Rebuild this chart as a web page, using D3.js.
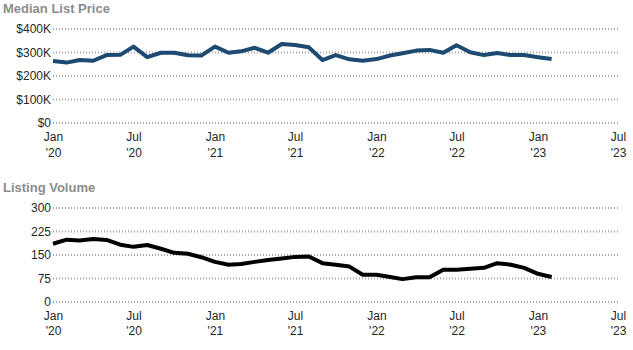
<!DOCTYPE html>
<html>
<head>
<meta charset="utf-8">
<script src="https://cdn.jsdelivr.net/npm/d3@7"></script>
<style>
  body { margin: 0; background: #fff; }
  text { font-family: "Liberation Sans", Arial, sans-serif; }
</style>
</head>
<body>
<svg id="chart" width="633" height="350"></svg>
<script>
// monthly values, Jan 2020 .. Feb 2023
const months = d3.timeMonths(new Date(2020, 0, 1), new Date(2023, 1, 2));

const listPrice = [264, 257, 268, 265, 289, 290, 325, 280, 299, 299, 288, 287,
  325, 299, 305, 320, 299, 336, 332, 322, 268, 289, 271, 265,
  272, 287, 297, 308, 311, 299, 331, 301, 289, 298, 289, 289,
  280, 272].map(d => d * 1000);

const listingVolume = [186, 199, 196, 201, 198, 183, 176, 182, 170, 157, 154, 143,
  128, 119, 121, 128, 134, 139, 144, 145, 124, 119, 113, 87,
  87, 80, 73, 79, 79, 103, 103, 106, 109, 124, 119, 109,
  90, 80];

const priceTicks = [0, 100000, 200000, 300000, 400000];
const volumeTicks = [0, 75, 150, 225, 300];
const xTicks = d3.timeMonths(new Date(2020, 0, 1), new Date(2023, 6, 2), 6);

const svg = d3.select("#chart");

const x = d3.scaleTime()
  .domain([new Date(2020, 0, 1), new Date(2023, 6, 1)])
  .range([53, 618]);

function panel(opts) {
  const g = svg.append("g");

  g.append("text")
    .attr("x", 3)
    .attr("y", opts.titleY)
    .attr("font-size", 13)
    .attr("font-weight", "bold")
    .attr("fill", "#8c8c8c")
    .text(opts.title);

  const y = d3.scaleLinear()
    .domain([0, opts.max])
    .range([opts.bottom, opts.top]);

  // gridlines
  g.selectAll(".grid")
    .data(opts.ticks)
    .enter()
    .append("line")
    .attr("x1", 53)
    .attr("x2", 620)
    .attr("y1", d => y(d))
    .attr("y2", d => y(d))
    .attr("stroke", "#a6a6a6")
    .attr("stroke-width", 2)
    .attr("stroke-dasharray", "1,2");

  const yAxis = d3.axisLeft(y)
    .tickValues(opts.ticks)
    .tickSize(0)
    .tickPadding(0)
    .tickFormat(opts.fmt);

  g.append("g")
    .attr("transform", "translate(51,0)")
    .call(yAxis)
    .call(a => a.select(".domain").remove())
    .selectAll("text")
      .attr("font-size", 12)
      .attr("fill", "#262626")
      .style("font-family", "'Liberation Sans', Arial, sans-serif");

  const xAxis = d3.axisBottom(x)
    .tickValues(xTicks)
    .tickSize(0)
    .tickFormat(d3.timeFormat("%b|'%y"));

  const xg = g.append("g")
    .attr("transform", `translate(0,${opts.bottom})`)
    .call(xAxis)
    .call(a => a.select(".domain").remove());

  xg.selectAll("text").each(function(d) {
    const parts = d3.timeFormat("%b|'%y")(d).split("|");
    const t = d3.select(this)
      .text(null)
      .attr("y", null)
      .attr("dy", null)
      .attr("font-size", 12)
      .attr("fill", "#262626")
      .style("font-family", "'Liberation Sans', Arial, sans-serif");
    t.append("tspan").attr("x", 0).attr("y", opts.lab1).text(parts[0]);
    t.append("tspan").attr("x", 0).attr("y", opts.lab2).text(parts[1]);
  });

  const line = d3.line()
    .x((d, i) => x(months[i]))
    .y(d => y(d));

  g.append("path")
    .datum(opts.data)
    .attr("fill", "none")
    .attr("stroke", opts.color)
    .attr("stroke-width", 4)
    .attr("stroke-linejoin", "round")
    .attr("d", line);
}

panel({
  title: "Median List Price",
  titleY: 13,
  data: listPrice,
  max: 400000,
  ticks: priceTicks,
  top: 29,
  bottom: 123,
  fmt: d => d === 0 ? "$0" : "$" + (d / 1000) + "K",
  lab1: 18,
  lab2: 34,
  color: "#1c4a72"
});

panel({
  title: "Listing Volume",
  titleY: 192,
  data: listingVolume,
  max: 300,
  ticks: volumeTicks,
  top: 208,
  bottom: 302,
  fmt: d => d,
  lab1: 18,
  lab2: 33,
  color: "#000000"
});
</script>
</body>
</html>
